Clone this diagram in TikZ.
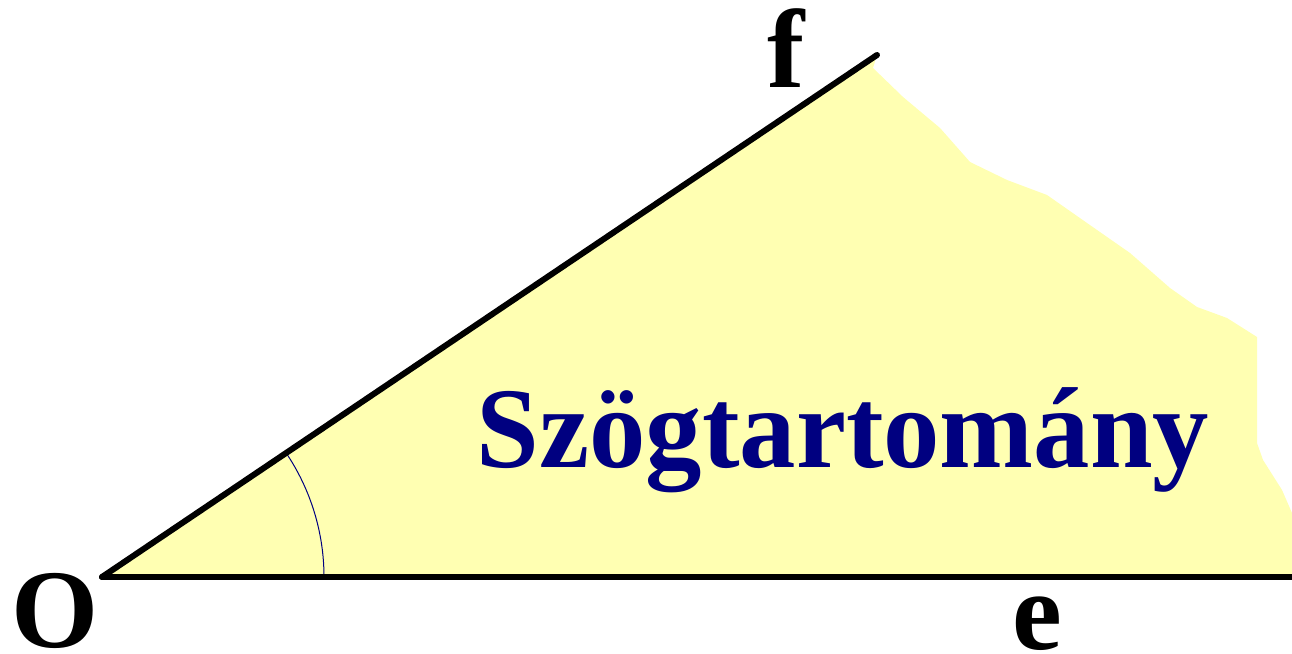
\documentclass[tikz,border=0pt]{standalone}
\usepackage{fontspec}
\setmainfont{Liberation Serif}
\definecolor{regionyellow}{RGB}{255,255,178}
\definecolor{labelnavy}{RGB}{0,0,128}
\tikzset{
  ray/.style={line width=6pt},
  raylabel/.style={anchor=base, inner sep=0pt, font=\fontsize{112}{112}\selectfont\bfseries}
}
\begin{document}
\begin{tikzpicture}[x=1pt, y=1pt, line join=round, line cap=round]
  \useasboundingbox (0,0) rectangle (1292,653);
  \coordinate (O) at (102,76);
  \coordinate (F) at (877,598);
  \coordinate (E) at (1292,76);
  % angular region with a torn right edge
  \fill[regionyellow] (O) -- (F) -- (873,585) -- (903,556) -- (940,525) -- (970,491)
    -- (1007,473) -- (1047,458) -- (1087,430) -- (1130,400) -- (1170,365)
    -- (1197,346) -- (1227,335) -- (1257,316) -- (1257,210) -- (1263,193)
    -- (1282,163) -- (1292,140) -- (E) -- cycle;
  \draw[labelnavy, line width=1pt] ([shift={(0:222)}]O) arc (0:33.96:222);
  \draw[ray] (O) -- (F);
  \draw[ray] (O) -- (E);
  \node[raylabel] (f) at (786,565) {f};
  \node[raylabel] (o) at (55,6) {O};
  \node[raylabel] (e) at (1037,4) {e};
  \node[anchor=base, inner sep=0pt, xscale=0.98, text=labelnavy,
    font=\fontsize{115}{115}\selectfont\bfseries] (name) at (843,185) {Szögtartomány};
\end{tikzpicture}
\end{document}
